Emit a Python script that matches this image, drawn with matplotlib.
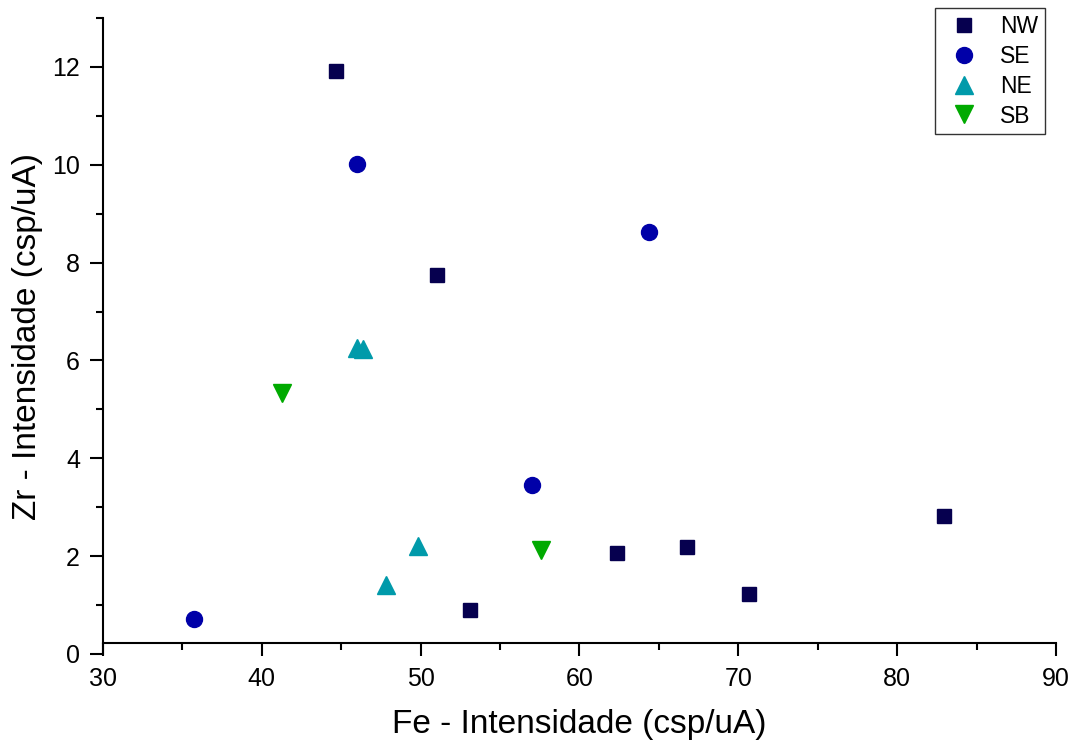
import matplotlib
matplotlib.use("Agg")
import matplotlib.pyplot as plt
from matplotlib.ticker import MultipleLocator

plt.rcParams['font.family'] = ['Liberation Sans', 'DejaVu Sans']

# data
nw_fe = [44.67, 51.03, 53.11, 62.34, 66.75, 70.66, 82.92]
nw_zr = [11.92, 7.75, 0.89, 2.06, 2.19, 1.23, 2.82]
se_fe = [35.75, 46.01, 56.99, 64.36]
se_zr = [0.72, 10.01, 3.46, 8.62]
ne_fe = [45.97, 46.39, 47.84, 49.82]
ne_zr = [6.25, 6.24, 1.41, 2.20]
sb_fe = [41.25, 57.58]
sb_zr = [5.34, 2.13]

fig = plt.figure(figsize=(10.75, 7.47), dpi=100)
ax = fig.add_axes([0.0958, 0.1245, 0.8865, 0.8514])

ax.plot(nw_fe, nw_zr, 's', color='#06004f', ms=10, ls='none', label='NW')
ax.plot(se_fe, se_zr, 'o', color='#0000a8', ms=11.5, ls='none', label='SE')
ax.plot(ne_fe, ne_zr, '^', color='#009aaa', ms=13, ls='none', label='NE')
ax.plot(sb_fe, sb_zr, 'v', color='#00aa00', ms=13, ls='none', label='SB')

ax.set_xlim(30, 90)
ax.set_ylim(0, 13)
ax.xaxis.set_major_locator(MultipleLocator(10))
ax.xaxis.set_minor_locator(MultipleLocator(5))
ax.yaxis.set_major_locator(MultipleLocator(2))
ax.yaxis.set_minor_locator(MultipleLocator(1))

ax.spines['top'].set_visible(False)
ax.spines['right'].set_visible(False)
ax.spines['left'].set_linewidth(1.5)
ax.spines['bottom'].set_linewidth(1.5)
# x axis line sits a little above y = 0, as in the original
ax.spines['bottom'].set_position(('data', 0.225))

ax.tick_params(which='major', direction='out', length=9.5, width=1.5, labelsize=18)
ax.tick_params(which='minor', direction='out', length=5, width=1.5)
ax.tick_params(axis='x', which='major', pad=8)
ax.tick_params(axis='y', which='major', pad=7)

ax.set_xlabel('Fe - Intensidade (csp/uA)', fontsize=24, va='center')
ax.set_ylabel('Zr - Intensidade (csp/uA)', fontsize=24, va='center')
ax.xaxis.set_label_coords(0.5, -0.1116)
ax.yaxis.set_label_coords(-0.0787, 0.5)

leg = ax.legend(loc='upper right', bbox_to_anchor=(0.9885, 1.0157), fontsize=16.5,
                frameon=True, fancybox=False, edgecolor='#333333', borderpad=0.3,
                borderaxespad=0, handletextpad=0.62, labelspacing=0.3,
                handlelength=1.9, framealpha=1)
leg.get_frame().set_linewidth(1.0)

fig.savefig('out.png', dpi=100)
